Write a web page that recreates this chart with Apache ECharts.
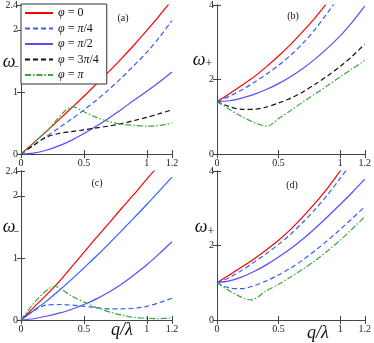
<!DOCTYPE html>
<html>
<head>
<meta charset="utf-8">
<script src="https://cdn.jsdelivr.net/npm/echarts@6/dist/echarts.min.js"></script>
<style>
    html, body {margin:0; padding:0; background:#fff;}
    #main {width:374px; height:343px;}
</style>
</head>
<body>
<div id="main"></div>
<script>
    // common q/lambda grid
    var q = [0, 0.1, 0.2, 0.3, 0.4, 0.5, 0.6, 0.7, 0.8, 0.9, 1.0, 1.1, 1.2];

    // panel (a) omega-
    var aRed    = [0, 0.18, 0.36, 0.55, 0.74, 0.93, 1.13, 1.33, 1.54, 1.76, 1.99, 2.23, 2.48];
    var aBlue   = [0, 0.14, 0.28, 0.42, 0.56, 0.71, 0.87, 1.04, 1.23, 1.43, 1.64, 1.88, 2.15];
    var aPurple = [0, 0.015, 0.06, 0.13, 0.22, 0.33, 0.45, 0.58, 0.72, 0.87, 1.01, 1.16, 1.32];
    var aBlack  = [0, 0.14, 0.27, 0.33, 0.36, 0.39, 0.42, 0.45, 0.49, 0.54, 0.59, 0.65, 0.71];
    var aGreenQ = [0, 0.2, 0.415, 0.5, 0.6, 0.7, 0.8, 0.9, 1.0, 1.1, 1.2];
    var aGreen  = [0, 0.36, 0.76, 0.68, 0.59, 0.52, 0.48, 0.46, 0.45, 0.46, 0.5];

    // panel (b) omega+
    var bRed    = [1.41, 1.62, 1.84, 2.07, 2.34, 2.63, 2.95, 3.3, 3.67, 4.08, 4.5, 4.9, 5.3];
    var bBlue   = [1.41, 1.55, 1.72, 1.92, 2.14, 2.38, 2.66, 2.98, 3.36, 3.8, 4.25, 4.7, 5.1];
    var bPurple = [1.41, 1.43, 1.5, 1.6, 1.73, 1.89, 2.08, 2.3, 2.56, 2.85, 3.17, 3.55, 3.97];
    var bBlack  = [1.41, 1.27, 1.2, 1.2, 1.26, 1.37, 1.5, 1.67, 1.88, 2.1, 2.35, 2.63, 2.95];
    var bGreenQ = [0, 0.41, 0.5, 0.6, 0.7, 0.8, 0.9, 1.0, 1.1, 1.2];
    var bGreen  = [1.41, 0.75, 0.95, 1.17, 1.4, 1.62, 1.84, 2.07, 2.29, 2.51];

    // panel (c) omega-
    var cRed      = [0, 0.2, 0.4, 0.61, 0.85, 1.09, 1.33, 1.56, 1.8, 2.03, 2.27, 2.5, 2.74];
    var cBlue     = [0, 0.15, 0.3, 0.47, 0.65, 0.84, 1.03, 1.23, 1.44, 1.65, 1.86, 2.08, 2.3];
    var cPurple   = [0, 0.02, 0.06, 0.11, 0.17, 0.25, 0.34, 0.45, 0.58, 0.73, 0.89, 1.07, 1.26];
    var cBlueDash = [0, 0.15, 0.24, 0.25, 0.24, 0.22, 0.2, 0.18, 0.18, 0.19, 0.22, 0.28, 0.35];
    var cGreenQ   = [0, 0.27, 0.4, 0.5, 0.6, 0.7, 0.8, 0.9, 1.0, 1.1, 1.2];
    var cGreen    = [0, 0.54, 0.39, 0.29, 0.2, 0.13, 0.08, 0.04, 0.03, 0.02, 0.04];

    // panel (d) omega+
    var dRed      = [1, 1.21, 1.42, 1.64, 1.88, 2.14, 2.44, 2.78, 3.15, 3.55, 4.0, 4.45, 4.9];
    var dBlueUp   = [1, 1.14, 1.33, 1.55, 1.78, 2.03, 2.31, 2.63, 2.98, 3.37, 3.8, 4.25, 4.7];
    var dPurple   = [1, 1.05, 1.15, 1.3, 1.48, 1.69, 1.92, 2.18, 2.47, 2.78, 3.1, 3.43, 3.78];
    var dBlueLow  = [1, 0.86, 0.84, 0.92, 1.05, 1.21, 1.4, 1.62, 1.87, 2.14, 2.43, 2.73, 3.04];
    var dGreenQ   = [0, 0.277, 0.4, 0.5, 0.6, 0.7, 0.8, 0.9, 1.0, 1.1, 1.2];
    var dGreen    = [1, 0.54, 0.78, 0.96, 1.16, 1.37, 1.6, 1.86, 2.14, 2.45, 2.77];

    var xTicks  = [0, 0.5, 1, 1.2];
    var yTicksM = [0, 1, 2, 2.4];
    var yTicksP = [0, 2, 4];
    var legendNames = ['φ = 0', 'φ = π/4', 'φ = π/2', 'φ = 3π/4', 'φ = π'];

    var RED = '#ff0000', BLUE = '#2e62ff', PURPLE = '#5b4bff', BLACK = '#111', GREEN = '#3ca83c';
    var FONT = 'Liberation Serif';

    var grids = [
        {left: 21, top: 4, width: 151, height: 150},
        {left: 217, top: 4, width: 150, height: 150},
        {left: 21, top: 171, width: 151, height: 149},
        {left: 217, top: 171, width: 150, height: 149}
    ];
    var yMax = [2.4, 4, 2.4, 4];

    function pairs(xs, ys) {
        return xs.map(function (x, i) { return [x, ys[i]]; });
    }

    var xAxes = [], yAxes = [];
    grids.forEach(function (g, i) {
        var yt = yMax[i] === 4 ? yTicksP : yTicksM;
        var line = {show: true, lineStyle: {color: '#444', width: 1}};
        xAxes.push({
            gridIndex: i, type: 'value', min: 0, max: 1.2, position: 'bottom',
            axisLine: line, splitLine: {show: false},
            axisTick: {inside: true, length: 4, customValues: xTicks, lineStyle: {color: '#444'}},
            axisLabel: {customValues: xTicks, margin: 4, fontFamily: FONT, fontSize: 10, color: '#222',
                formatter: function (v) { return String(v); }}
        });
        yAxes.push({
            gridIndex: i, type: 'value', min: 0, max: yMax[i], position: 'left',
            axisLine: line, splitLine: {show: false},
            axisTick: {inside: true, length: 4, customValues: yt, lineStyle: {color: '#444'}},
            axisLabel: {customValues: yt, margin: 3, fontFamily: FONT, fontSize: 10, color: '#222',
                formatter: function (v) { return String(v); }}
        });
    });
    // mirrored ticks on top and right
    grids.forEach(function (g, i) {
        var yt = yMax[i] === 4 ? yTicksP : yTicksM;
        var line = {show: true, lineStyle: {color: '#444', width: 1}};
        xAxes.push({
            gridIndex: i, type: 'value', min: 0, max: 1.2, position: 'top',
            axisLine: line, splitLine: {show: false}, axisLabel: {show: false},
            axisTick: {inside: true, length: 4, customValues: xTicks, lineStyle: {color: '#444'}}
        });
        yAxes.push({
            gridIndex: i, type: 'value', min: 0, max: yMax[i], position: 'right',
            axisLine: line, splitLine: {show: false}, axisLabel: {show: false},
            axisTick: {inside: true, length: 4, customValues: yt, lineStyle: {color: '#444'}}
        });
    });

    function mk(name, idx, data, color, dash) {
        return {
            name: name, type: 'line', xAxisIndex: idx, yAxisIndex: idx,
            data: data, symbol: 'none', smooth: 0.3, animation: false,
            lineStyle: {color: color, width: 1.2, type: dash || 'solid'},
            itemStyle: {color: color}
        };
    }
    var DASH = [5, 3], DOTDASH = [6, 2, 1.5, 2];

    var series = [
        mk(legendNames[0], 0, pairs(q, aRed), RED),
        mk(legendNames[1], 0, pairs(q, aBlue), BLUE, DASH),
        mk(legendNames[2], 0, pairs(q, aPurple), PURPLE),
        mk(legendNames[3], 0, pairs(q, aBlack), BLACK, DASH),
        mk(legendNames[4], 0, pairs(aGreenQ, aGreen), GREEN, DOTDASH),

        mk('b0', 1, pairs(q, bRed), RED),
        mk('b1', 1, pairs(q, bBlue), BLUE, DASH),
        mk('b2', 1, pairs(q, bPurple), PURPLE),
        mk('b3', 1, pairs(q, bBlack), BLACK, DASH),
        mk('b4', 1, pairs(bGreenQ, bGreen), GREEN, DOTDASH),

        mk('c0', 2, pairs(q, cRed), RED),
        mk('c1', 2, pairs(q, cBlue), BLUE),
        mk('c2', 2, pairs(q, cPurple), PURPLE),
        mk('c3', 2, pairs(q, cBlueDash), BLUE, DASH),
        mk('c4', 2, pairs(cGreenQ, cGreen), GREEN, DOTDASH),

        mk('d0', 3, pairs(q, dRed), RED),
        mk('d1', 3, pairs(q, dBlueUp), BLUE, DASH),
        mk('d2', 3, pairs(q, dPurple), PURPLE),
        mk('d3', 3, pairs(q, dBlueLow), BLUE, DASH),
        mk('d4', 3, pairs(dGreenQ, dGreen), GREEN, DOTDASH)
    ];

    function txt(x, y, s, size, italic, align) {
        return {
            type: 'text', x: x, y: y, z: 100,
            style: {text: s, fill: '#111', fontFamily: FONT, fontSize: size,
                fontStyle: italic ? 'italic' : 'normal',
                align: align || 'center', verticalAlign: 'middle'}
        };
    }

    var option = {
        backgroundColor: '#fff',
        animation: false,
        grid: grids.map(function (g) { return Object.assign({show: false}, g); }),
        xAxis: xAxes,
        yAxis: yAxes,
        legend: {
            data: legendNames,
            orient: 'vertical',
            left: 21, top: 4,
            padding: [3, 8, 3, 3],
            itemWidth: 28, itemHeight: 10, itemGap: 3.5, itemTextGap: 4,
            backgroundColor: '#fff', borderColor: '#333', borderWidth: 1,
            selectedMode: false,
            itemStyle: {color: 'rgba(0,0,0,0)', borderWidth: 0, opacity: 0},
            formatter: function (name) {
                return name.replace('φ', '{i|φ}').replace('π', '{i|π}');
            },
            textStyle: {fontFamily: FONT, fontSize: 12, color: '#111', lineHeight: 10,
                rich: {i: {fontFamily: FONT, fontSize: 12, fontStyle: 'italic', color: '#111', lineHeight: 10}}}
        },
        graphic: [
            txt(123, 18, '(a)', 10),
            txt(293, 16, '(b)', 10),
            txt(97, 183, '(c)', 10),
            txt(292, 185, '(d)', 10),
            txt(9, 62, 'ω', 18, true),
            txt(16, 67, '−', 11),
            txt(199, 60, 'ω', 18, true),
            txt(209, 64, '+', 12),
            txt(9, 227, 'ω', 18, true),
            txt(16, 232, '−', 11),
            txt(201, 227, 'ω', 18, true),
            txt(211, 232, '+', 12),
            txt(122, 330, 'q/λ', 18, true),
            txt(318, 333, 'q/λ', 18, true)
        ],
        series: series
    };

    var myChart = echarts.init(document.getElementById('main'));
    myChart.setOption(option);
</script>
</body>
</html>
